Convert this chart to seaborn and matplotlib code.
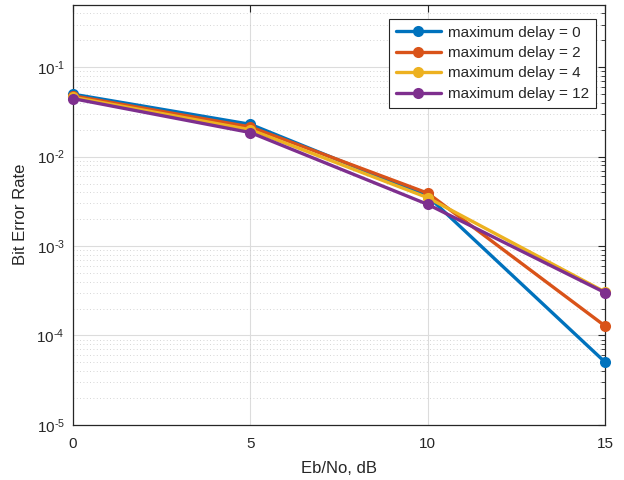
import numpy as np
import pandas as pd
import matplotlib
matplotlib.use("Agg")
import matplotlib.pyplot as plt
import seaborn as sns
from matplotlib.ticker import LogLocator, NullFormatter, FuncFormatter

ebno = [0, 5, 10, 15]
ber_d0 = [0.0500, 0.0230, 0.00360, 5.0e-5]
ber_d2 = [0.0480, 0.0215, 0.00390, 1.27e-4]
ber_d4 = [0.0462, 0.0200, 0.00347, 3.05e-4]
ber_d12 = [0.0446, 0.0186, 0.00292, 3.0e-4]
labels = ["maximum delay = 0", "maximum delay = 2", "maximum delay = 4", "maximum delay = 12"]
colors = ["#0072BD", "#D95319", "#EDB120", "#7E2F8E"]

rows = []
for lab, vals in zip(labels, [ber_d0, ber_d2, ber_d4, ber_d12]):
    for x, v in zip(ebno, vals):
        rows.append({"Eb/No": x, "BER": v, "series": lab})
df = pd.DataFrame(rows)

sns.set_style("white")
plt.rcParams["font.family"] = ["Liberation Sans", "DejaVu Sans"]
plt.rcParams["mathtext.fontset"] = "custom"
plt.rcParams["mathtext.rm"] = "Liberation Sans"
plt.rcParams["mathtext.it"] = "Liberation Sans:italic"
plt.rcParams["mathtext.default"] = "rm"

fig = plt.figure(figsize=(6.24, 4.8), dpi=100)
ax = fig.add_axes([0.117, 0.115, 0.853, 0.875])

sns.lineplot(data=df, x="Eb/No", y="BER", hue="series", hue_order=labels,
             palette=colors, marker="o", markersize=8, markeredgewidth=0,
             linewidth=2.4, ax=ax, zorder=3)
for ln in ax.lines:
    ln.set_clip_on(False)


def fmt(v, p):
    e = int(round(np.log10(v)))
    return r"$10^{\text{-%d}}$" % abs(e)


ax.set_yscale("log")
ax.set_xlim(0, 15)
ax.set_ylim(1e-5, 0.5)
ax.set_xticks([0, 5, 10, 15])
ax.yaxis.set_major_locator(LogLocator(base=10, numticks=10))
ax.yaxis.set_major_formatter(FuncFormatter(fmt))
ax.yaxis.set_minor_locator(LogLocator(base=10, subs=np.arange(2, 10), numticks=20))
ax.yaxis.set_minor_formatter(NullFormatter())

ax.grid(True, which="major", axis="both", color="#dcdcdc", linewidth=0.8, linestyle="-")
ax.grid(True, which="minor", axis="y", color="#c8c8c8", linewidth=0.6, linestyle=(0, (1, 3)))
ax.set_axisbelow(True)

for s in ax.spines.values():
    s.set_visible(True)
    s.set_color("#262626")
    s.set_linewidth(0.9)

ax.tick_params(which="both", direction="in", top=True, right=True, colors="#262626",
               labelsize=11, labelcolor="#262626")
ax.tick_params(which="major", length=5)
ax.tick_params(which="minor", length=3)
ax.tick_params(axis="x", pad=9)
ax.tick_params(axis="y", pad=6)

ax.set_xlabel("Eb/No, dB", fontsize=12, color="#262626", labelpad=7)
ax.set_ylabel("Bit Error Rate", fontsize=12, color="#262626", labelpad=6)

leg = ax.legend(loc="upper right", bbox_to_anchor=(0.996, 0.985), fontsize=11,
                frameon=True, fancybox=False, edgecolor="#262626", framealpha=1,
                handlelength=3.0, borderpad=0.45, labelspacing=0.42, handletextpad=0.4)
leg.get_frame().set_linewidth(0.8)

fig.savefig("out.png", dpi=100)
